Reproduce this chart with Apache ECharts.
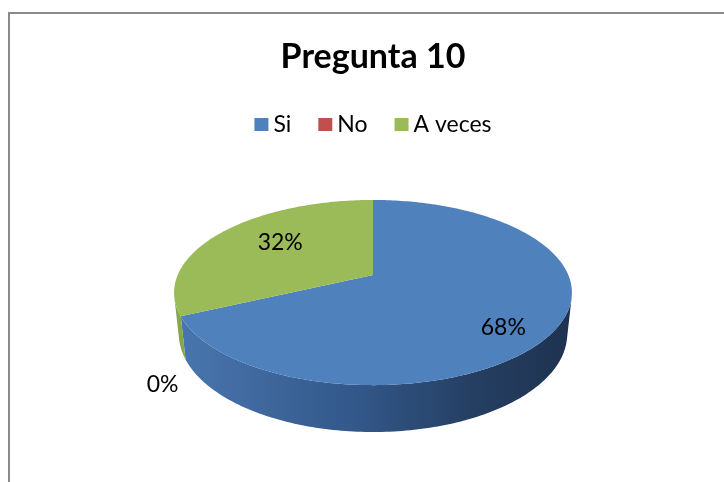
<!DOCTYPE html>
<html><head><meta charset="utf-8">
<script src="https://cdn.jsdelivr.net/npm/echarts/dist/echarts.min.js"></script>
<style>html,body{margin:0;padding:0;overflow:hidden;background:#fff}#c{position:absolute;left:0;top:0;width:746px;height:482px}</style>
</head><body><div id="c"></div>
<script>
// ---- data ----
const titleText = 'Pregunta 10';
const categories = ['Si', 'No', 'A veces'];
const values = [68, 0, 32];
const labelTexts = ['68%', '0%', '32%'];

// ---- style ----
const topColors = ['#4F81BD', '#C0504D', '#9BBB59'];
const wallStops = [
  [[0, '#4a77b0'], [0.45, '#33588a'], [0.75, '#253f62'], [1, '#1e3250']],
  [[0, '#b04a47'], [1, '#5e2624']],
  [[0, '#88a84c'], [1, '#4e6230']]
];
const labelShift = [[6, 17], [-23, 25], [15, -1]];
const LABEL_R = 0.7;

// perspective camera for the 3D pie
const F = 916, D = 4.69, S = 0.457, C = 0.889, H = 0.24, CY = 275;

const total = values.reduce((a, b) => a + b, 0);
const starts = [];
let acc = 0;
values.forEach(v => { starts.push(acc); acc += v; });

function renderSlice(i, api) {
  const CX = api.getWidth() / 2;
  const P = (u, w, z) => {
    const d = D + C * w - S * z;
    return [CX + F * u / d, CY - F * (S * w + C * z) / d];
  };
  const a0 = starts[i] / total * 2 * Math.PI;
  const a1 = (starts[i] + values[i]) / total * 2 * Math.PI;
  const children = [];
  const arc = (t0, t1, z) => {
    const pts = [];
    const n = Math.max(2, Math.ceil((t1 - t0) / (Math.PI / 180)));
    for (let k = 0; k <= n; k++) {
      const t = t0 + (t1 - t0) * k / n;
      pts.push(P(Math.sin(t), Math.cos(t), z));
    }
    return pts;
  };
  if (values[i] > 0) {
    const wlim = -1 / (D * C);
    const fA = Math.acos(wlim), fB = 2 * Math.PI - fA;
    const w0 = Math.max(a0, fA), w1 = Math.min(a1, fB);
    if (w1 > w0) {
      const topArc = arc(w0, w1, 0);
      const botArc = arc(w0, w1, -H).reverse();
      children.push({
        type: 'polygon', z2: 1,
        shape: { points: topArc.concat(botArc) },
        style: {
          fill: {
            type: 'linear', x: CX - 200, y: 0, x2: CX + 200, y2: 0, global: true,
            colorStops: wallStops[i].map(s => ({ offset: s[0], color: s[1] }))
          }
        }
      });
    }
    children.push({
      type: 'polygon', z2: 10,
      shape: { points: [P(0, 0, 0)].concat(arc(a0, a1, 0)) },
      style: { fill: topColors[i] }
    });
  }
  const mid = (a0 + a1) / 2;
  let lp;
  if (values[i] > 0) {
    lp = P(LABEL_R * Math.sin(mid), LABEL_R * Math.cos(mid), 0);
  } else {
    lp = P(Math.sin(mid), Math.cos(mid), -H);
  }
  children.push({
    type: 'text', z2: 20,
    style: {
      text: labelTexts[i], x: lp[0] + labelShift[i][0], y: lp[1] + labelShift[i][1],
      fill: '#000', font: '23px Lato', align: 'center', verticalAlign: 'middle'
    }
  });
  return { type: 'group', children };
}

const chart = echarts.init(document.getElementById('c'), null, { renderer: 'canvas' });
chart.setOption({
  backgroundColor: '#fff',
  animation: false,
  title: {
    text: titleText, left: 'center', top: 35,
    textStyle: { fontFamily: 'Lato', fontWeight: 'bold', fontSize: 34, color: '#000' }
  },
  legend: {
    data: categories, top: 108, left: 'center', icon: 'rect',
    itemWidth: 14, itemHeight: 13, itemGap: 27,
    textStyle: { fontFamily: 'Lato', fontSize: 23, color: '#000' }
  },
  graphic: [{
    type: 'rect', silent: true, z: 0,
    shape: { x: 9, y: 13, width: 727, height: 520 },
    style: { fill: null, stroke: '#8a8a8a', lineWidth: 2 }
  }],
  series: categories.map((name, i) => ({
    type: 'custom', name, coordinateSystem: 'none', z: 2,
    itemStyle: { color: topColors[i] },
    data: [[values[i], starts[i]]],
    renderItem: (params, api) => renderSlice(i, api)
  }))
});
</script>
</body></html>
